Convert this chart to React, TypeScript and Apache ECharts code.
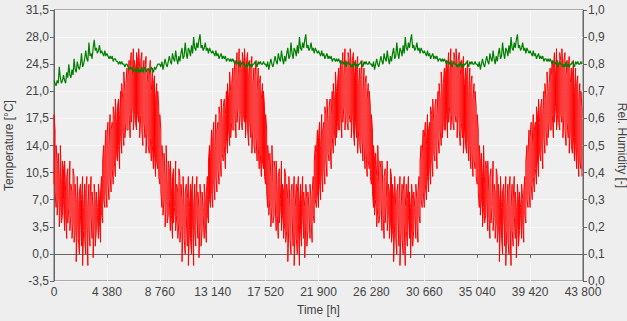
import React, { useEffect, useRef } from "react";
import * as echarts from "echarts";

// Time axis (hours), ticks every 4380 h
const xTicks = [0, 4380, 8760, 13140, 17520, 21900, 26280, 30660, 35040, 39420, 43800];
const yearHours = 8760;
const years = 5;

// Temperature [°C]: per-bin low / high of the dense hourly trace (100 bins per year, 87.6 h each),
// read off the picture; the picture shows the same year repeated five times
const tempYearHigh = [
  18, 16, 14, 12, 13, 10, 14, 9, 12, 11,
  12, 8, 10, 11, 7, 12, 9, 8, 11, 10,
  9, 7, 10, 6, 8, 9, 7, 10, 6, 9,
  8, 10, 6, 9, 7, 10, 8, 6, 9, 7,
  8, 6, 9, 7, 8, 10, 12, 14, 13, 16,
  15, 17, 14, 18, 16, 17, 19, 18, 20, 17,
  19, 20, 18, 21, 22, 20, 23.5, 21, 22, 24,
  23, 25, 24, 26, 23, 26.5, 25, 24, 26, 25,
  26.5, 24, 25, 26, 23, 25, 24, 25.5, 22, 24,
  23, 25, 21, 24, 22, 23, 20, 22, 21, 19,
];
const tempYearLow = [
  9, 8, 6, 5, 7, 3.5, 6, 4, 5, 7,
  3, 5, 2, 4, 6, 3, 5, 2, 4, 1.5,
  3, -1, 4, 2, 0, 5, 1, -1.5, 3, 2,
  0, 4, -1.5, 3, 1, 5, 2, -0.5, 4, 1,
  3, 5, 2, 4, 1.5, 5, 4, 7, 6, 8,
  6, 9, 7, 10, 8, 11, 9, 12, 10, 13,
  12, 14, 11, 15, 13, 16, 14, 15, 17, 16,
  16, 18, 15, 17, 19, 16, 18, 17, 16, 18,
  17, 15, 18, 16, 14, 17, 15, 13, 16, 14,
  13, 15, 12, 14, 11, 13, 10, 12, 11, 10,
];

// Relative humidity [-] (100 values per year, 87.6 h each)
const humFirstYear = [
  0.74, 0.73, 0.72, 0.74, 0.73, 0.79, 0.75, 0.73, 0.74, 0.76,
  0.74, 0.73, 0.77, 0.75, 0.80, 0.76, 0.75, 0.78, 0.76, 0.82,
  0.78, 0.77, 0.81, 0.79, 0.78, 0.80, 0.84, 0.79, 0.80, 0.82,
  0.85, 0.82, 0.81, 0.88, 0.83, 0.84, 0.82, 0.86, 0.89, 0.85,
  0.86, 0.84, 0.85, 0.87, 0.84, 0.85, 0.84, 0.83, 0.85, 0.83,
  0.84, 0.83, 0.82, 0.83, 0.82, 0.83, 0.81, 0.82, 0.82, 0.81,
  0.81, 0.80, 0.81, 0.80, 0.81, 0.80, 0.80, 0.79, 0.80, 0.80,
  0.79, 0.78, 0.79, 0.78, 0.79, 0.77, 0.78, 0.78, 0.77, 0.79,
  0.77, 0.78, 0.77, 0.79, 0.77, 0.78, 0.79, 0.77, 0.78, 0.78,
  0.78, 0.77, 0.79, 0.78, 0.77, 0.79, 0.78, 0.79, 0.80, 0.80,
];
const humLaterYears = [
  0.80, 0.79, 0.81, 0.78, 0.80, 0.82, 0.80, 0.79, 0.81, 0.83,
  0.81, 0.80, 0.84, 0.82, 0.81, 0.85, 0.82, 0.80, 0.83, 0.81,
  0.84, 0.86, 0.82, 0.83, 0.88, 0.84, 0.82, 0.86, 0.85, 0.83,
  0.87, 0.84, 0.90, 0.86, 0.85, 0.88, 0.86, 0.89, 0.91, 0.86,
  0.87, 0.85, 0.86, 0.88, 0.85, 0.86, 0.84, 0.86, 0.85, 0.84,
  0.85, 0.84, 0.83, 0.85, 0.83, 0.84, 0.82, 0.83, 0.84, 0.82,
  0.83, 0.82, 0.83, 0.81, 0.82, 0.82, 0.81, 0.82, 0.81, 0.82,
  0.81, 0.80, 0.81, 0.81, 0.80, 0.81, 0.79, 0.80, 0.81, 0.80,
  0.80, 0.79, 0.80, 0.79, 0.81, 0.79, 0.80, 0.79, 0.80, 0.80,
  0.81, 0.80, 0.79, 0.81, 0.80, 0.81, 0.80, 0.80, 0.81, 0.80,
];

const comma = (v: number) => v.toFixed(1).replace(".", ",");
const spaced = (v: number) => String(Math.round(v)).replace(/\B(?=(\d{3})+(?!\d))/g, " ");

export default function App() {
  const ref = useRef<HTMLDivElement>(null);
  useEffect(() => {
    document.body.style.margin = "0";
    const chart = echarts.init(ref.current!, null, { renderer: "svg" });

    const tempData: [number, number][] = [];
    const tStep = yearHours / tempYearHigh.length;
    for (let y = 0; y < years; y++) {
      for (let i = 0; i < tempYearHigh.length; i++) {
        const t = y * yearHours + i * tStep;
        const lo = tempYearLow[i];
        const hi = tempYearHigh[i];
        if (i % 2 === 0) {
          tempData.push([t, lo], [t, hi]);
        } else {
          tempData.push([t, hi], [t, lo]);
        }
      }
    }
    const humData: [number, number][] = [];
    for (let y = 0; y < years; y++) {
      const arr = y === 0 ? humFirstYear : humLaterYears;
      const step = yearHours / arr.length;
      arr.forEach((v, i) => humData.push([y * yearHours + i * step, v]));
    }

    const font = "Liberation Sans";
    const txt = { color: "#444", fontFamily: font, fontSize: 12 };
    const axLine = { show: true, lineStyle: { color: "#666", width: 1 } };
    const tick = { show: true, length: 4, inside: false, lineStyle: { color: "#666" } };
    const split = { show: true, lineStyle: { color: "#F7F7F7", width: 1 } };

    chart.setOption({
      animation: false,
      backgroundColor: "#EEEEEE",
      grid: {
        left: 54, right: 44, top: 10, bottom: 40,
        containLabel: false, outerBoundsMode: "none",
        show: true, backgroundColor: "#EFEFEF", borderColor: "#666", borderWidth: 1,
      },
      xAxis: {
        type: "value", min: 0, max: xTicks[xTicks.length - 1], interval: 4380,
        name: "Time [h]", nameLocation: "middle", nameGap: 23,
        nameTextStyle: { ...txt },
        axisLine: axLine, axisTick: tick, splitLine: split,
        axisLabel: { ...txt, margin: 5, formatter: spaced },
      },
      yAxis: [
        {
          type: "value", min: -3.5, max: 31.5, interval: 3.5,
          name: "Temperature [°C]", nameLocation: "middle", nameGap: 37,
          nameTextStyle: { ...txt },
          axisLine: axLine, axisTick: tick, splitLine: split,
          axisLabel: { ...txt, margin: 5, formatter: comma },
        },
        {
          type: "value", min: 0, max: 1, interval: 0.1, position: "right",
          name: "Rel. Humidity [-]", nameLocation: "middle", nameGap: 26, nameRotate: -90,
          nameTextStyle: { ...txt },
          axisLine: axLine, axisTick: tick, splitLine: { show: false },
          axisLabel: { ...txt, margin: 5, formatter: comma },
        },
      ],
      series: [
        {
          type: "line", name: "Temperature", yAxisIndex: 0, data: tempData,
          showSymbol: false, symbol: "none", lineStyle: { color: "#FF0000", width: 1 },
        },
        {
          type: "line", name: "Humidity", yAxisIndex: 1, data: humData,
          showSymbol: false, symbol: "none", lineStyle: { color: "#008000", width: 1.2 },
        },
      ],
    });
    return () => chart.dispose();
  }, []);
  return <div ref={ref} style={{ position: "fixed", left: 0, top: 0, width: 627, height: 321 }} />;
}
